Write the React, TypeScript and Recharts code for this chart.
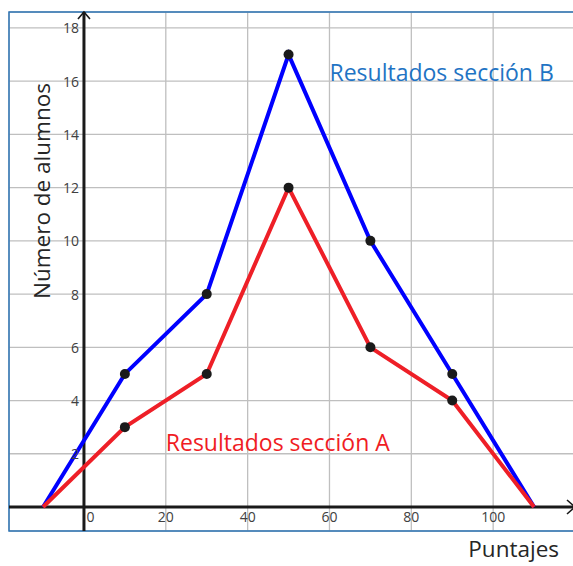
import React from "react";
import {
  LineChart,
  Line,
  XAxis,
  YAxis,
  CartesianGrid,
  ReferenceLine,
  ReferenceArea,
  ReferenceDot,
  Label,
} from "recharts";

// ---- data ----
const puntajes = [-10, 10, 30, 50, 70, 90, 110];
const seccionA = [0, 3, 5, 12, 6, 4, 0];
const seccionB = [0, 5, 8, 17, 10, 5, 0];
const xTicks = [0, 20, 40, 60, 80, 100, 120];
const yTicks = [0, 2, 4, 6, 8, 10, 12, 14, 16, 18];
const labelA = "Resultados sección A";
const labelB = "Resultados sección B";
const xTitle = "Puntajes";
const yTitle = "Número de alumnos";

const data = puntajes.map((x, i) => ({ x, a: seccionA[i], b: seccionB[i] }));

// ---- layout ----
const W = 575;
const H = 566;
const M = { top: 12, right: 0, bottom: 34, left: 8 };
const AX = 1; // axis thickness
const PL = M.left + AX;
const PT = M.top;
const PW = W - PL - M.right;
const PH = H - M.top - M.bottom - AX;
const XMIN = -18.32;
const XMAX = 120;
const YMIN = -0.902;
const YMAX = 18.6;
const X0 = PL + (PW * (0 - XMIN)) / (XMAX - XMIN);
const Y0 = PT + (PH * (YMAX - 0)) / (YMAX - YMIN);

const FONT = "'Open Sans', sans-serif";
const TICK_COLOR = "#404040";

const XTick = (props: any) => {
  const { x, payload } = props;
  const v = payload.value;
  if (v === 120) return <g />;
  return (
    <text
      x={x + (v === 0 ? 6.5 : 0)}
      y={Y0 + 10}
      textAnchor="middle"
      dominantBaseline="central"
      fontFamily={FONT}
      fontSize={14}
      fill={TICK_COLOR}
    >
      {v}
    </text>
  );
};

const YTick = (props: any) => {
  const { y, payload } = props;
  const v = payload.value;
  if (v === 0) return <g />;
  return (
    <text
      x={X0 - 5}
      y={y}
      textAnchor="end"
      dominantBaseline="central"
      fontFamily={FONT}
      fontSize={14}
      fill={TICK_COLOR}
    >
      {v}
    </text>
  );
};

const AxisArrow = (props: any) => {
  const { x1, y1, x2, y2 } = props;
  const horiz = Math.abs(x2 - x1) > Math.abs(y2 - y1);
  let sx, sy, tx, ty, head;
  if (horiz) {
    tx = Math.max(x1, x2);
    sx = Math.min(x1, x2);
    ty = sy = y1;
    head = `${tx - 8},${ty - 7} ${tx},${ty} ${tx - 8},${ty + 7}`;
  } else {
    ty = Math.min(y1, y2);
    sy = Math.max(y1, y2);
    tx = sx = x1;
    head = `${tx - 6},${ty + 7} ${tx},${ty} ${tx + 6},${ty + 7}`;
  }
  return (
    <g>
      <line x1={sx} y1={sy} x2={tx} y2={ty} stroke="#1a1a1a" strokeWidth={3} />
      <polyline points={head} fill="none" stroke="#1a1a1a" strokeWidth={1.6} />
    </g>
  );
};

const makeDot = (props: any) => {
  const { cx, cy, value, index } = props;
  if (value === 0) return <g key={`d${index}`} />;
  return <circle key={`d${index}`} cx={cx} cy={cy} r={5} fill="#1a1a1a" />;
};

const makeLabel = (text: string, color: string) => (props: any) => (
  <text
    x={props.cx}
    y={props.cy}
    textAnchor="start"
    fontFamily={FONT}
    fontSize={23}
    fill={color}
  >
    {text}
  </text>
);

const XTitle = (p: any) => (
  <text x={559} y={557} textAnchor="end" fontFamily={FONT} fontSize={22.5} fill="#262626">
    {xTitle}
  </text>
);

const YTitle = (p: any) => (
  <text
    x={50}
    y={191}
    transform="rotate(-90 50 191)"
    textAnchor="middle"
    fontFamily={FONT}
    fontSize={22.5}
    fill="#262626"
  >
    {yTitle}
  </text>
);

export default function App() {
  return (
    <div
      style={{
        position: "absolute",
        left: 0,
        top: 0,
        width: 573,
        height: 566,
        overflow: "hidden",
        background: "#fff",
      }}
    >
      <LineChart width={W} height={H} data={data} margin={M}>
        <CartesianGrid stroke="#bfbfbf" strokeWidth={1.3} />
        <XAxis
          dataKey="x"
          type="number"
          domain={[XMIN, XMAX]}
          allowDataOverflow
          ticks={xTicks}
          height={AX}
          axisLine={false}
          tickLine={false}
          tick={XTick}
          interval={0}
          label={<Label content={XTitle} />}
        />
        <YAxis
          type="number"
          domain={[YMIN, YMAX]}
          allowDataOverflow
          ticks={yTicks}
          width={AX}
          axisLine={false}
          tickLine={false}
          tick={YTick}
          interval={0}
          label={<Label content={YTitle} />}
        />
        <ReferenceArea
          x1={XMIN}
          x2={XMAX}
          y1={YMIN}
          y2={YMAX}
          fill="none"
          fillOpacity={0}
          stroke="#2e75b6"
          strokeWidth={1.5}
          ifOverflow="visible"
        />
        <ReferenceLine y={0} shape={AxisArrow} />
        <ReferenceLine x={0} shape={AxisArrow} />
        <Line
          dataKey="b"
          stroke="#0000ff"
          strokeWidth={4}
          dot={makeDot}
          activeDot={false}
          isAnimationActive={false}
          type="linear"
        />
        <Line
          dataKey="a"
          stroke="#ee1f27"
          strokeWidth={4}
          dot={makeDot}
          activeDot={false}
          isAnimationActive={false}
          type="linear"
        />
        <ReferenceDot x={60} y={16} r={0} shape={makeLabel(labelB, "#1f74c4")} ifOverflow="visible" />
        <ReferenceDot x={20} y={2.1} r={0} shape={makeLabel(labelA, "#f01c24")} ifOverflow="visible" />
      </LineChart>
    </div>
  );
}
